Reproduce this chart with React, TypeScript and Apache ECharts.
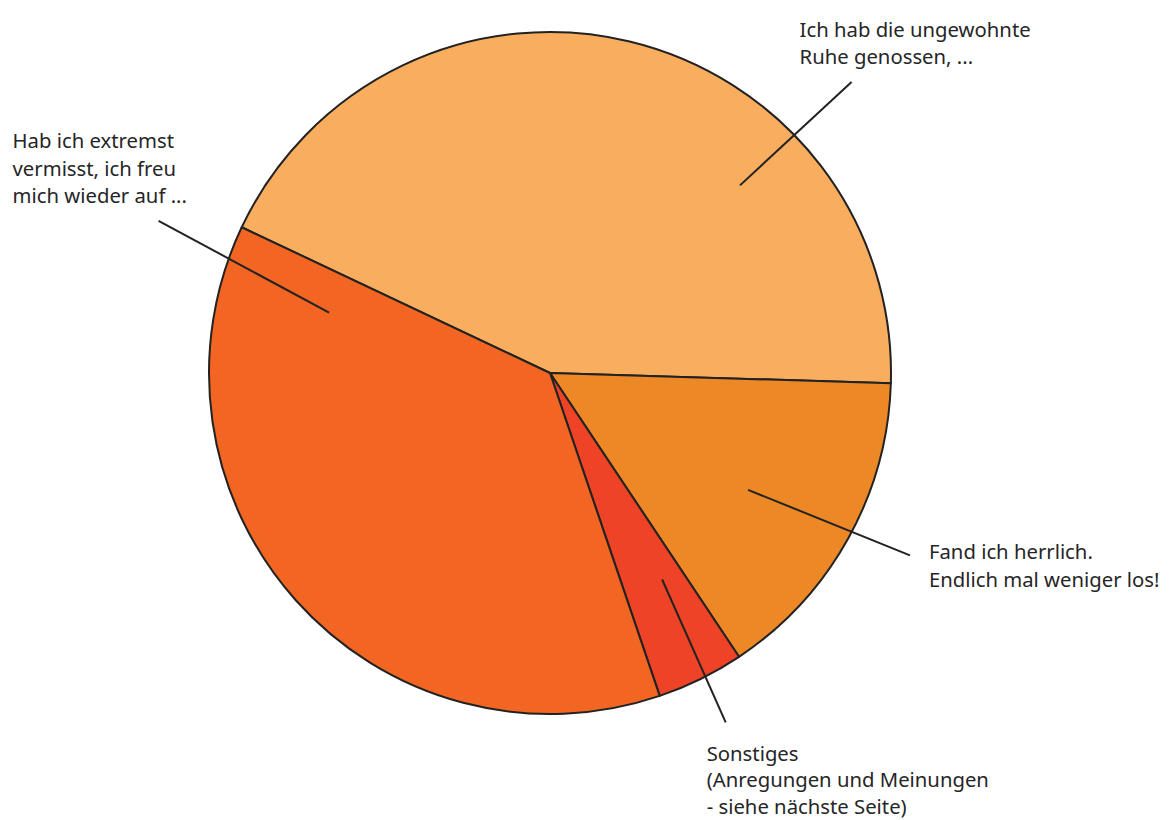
import React, { useEffect, useRef } from 'react';
import * as echarts from 'echarts';

// ---- data ----
const categories = [
  'Ich hab die ungewohnte\nRuhe genossen, ...',
  'Fand ich herrlich.\nEndlich mal weniger los!',
  'Sonstiges\n(Anregungen und Meinungen\n- siehe nächste Seite)',
  'Hab ich extremst\nvermisst, ich freu\nmich wieder auf ...',
];
const values = [63, 22, 6, 54];

// ---- styles ----
const colors = ['#F9AE5F', '#EC8826', '#EE4327', '#F26522'];
const labelLineHeights = [27.5, 27.5, 26.5, 27.5];

// ---- layout ----
const CENTER = [550, 373];
const RADIUS = 341;
const START_ANGLE = 154.7;
// leader-line anchors: [angle in degrees clockwise from 3 o'clock, distance from centre]
const guideFrom = [[-44.65, 267], [30.54, 230], [61.5, 235], [-164.74, 229]];
const guideTo = [[-43.97, 419], [26.86, 403.5], [63.3, 391], [-158.75, 420]];
// label offset from the leader-line end: [dx, dy, verticalAlign]
const labelOffset: [number, number, string][] = [
  [-52, -12, 'bottom'],
  [19, -18, 'top'],
  [-19, 17, 'top'],
  [-146, -12, 'bottom'],
];

function polar(a: number, r: number): [number, number] {
  const rad = (a * Math.PI) / 180;
  return [CENTER[0] + r * Math.cos(rad), CENTER[1] + r * Math.sin(rad)];
}

export default function App() {
  const ref = useRef<HTMLDivElement>(null);
  useEffect(() => {
    if (!ref.current) return;
    const chart = echarts.init(ref.current, null, { renderer: 'svg' });
    const common = {
      type: 'pie',
      center: CENTER,
      radius: [0, RADIUS],
      startAngle: START_ANGLE,
      clockwise: true,
      avoidLabelOverlap: false,
      silent: true,
      emphasis: { disabled: true },
    };
    chart.setOption({
      animation: false,
      backgroundColor: '#ffffff',
      series: [
        {
          ...common,
          z: 2,
          itemStyle: { borderColor: '#222222', borderWidth: 2 },
          label: { show: false },
          labelLine: { show: false },
          data: categories.map((name, i) => ({
            name,
            value: values[i],
            itemStyle: { color: colors[i] },
          })),
        },
        {
          ...common,
          z: 5,
          itemStyle: { color: 'rgba(0,0,0,0)', borderWidth: 0 },
          label: {
            show: true,
            position: 'outside',
            formatter: '{b}',
            color: '#262626',
            fontFamily: 'Noto Sans',
            fontSize: 20.3,
            lineHeight: 27.5,
          },
          labelLine: {
            show: true,
            length: 20,
            length2: 0,
            smooth: false,
            lineStyle: { color: '#222222', width: 2 },
          },
          labelLayout: (params: any) => {
            const i = params.dataIndex;
            const p0 = polar(guideFrom[i][0], guideFrom[i][1]);
            const p1 = polar(guideTo[i][0], guideTo[i][1]);
            const off = labelOffset[i];
            return {
              x: p1[0] + off[0],
              y: p1[1] + off[1],
              align: 'left',
              verticalAlign: off[2],
              labelLinePoints: [p0, p1],
            };
          },
          data: categories.map((name, i) => ({
            name,
            value: values[i],
            label: { lineHeight: labelLineHeights[i] },
          })),
        },
      ],
    });
    return () => chart.dispose();
  }, []);
  return (
    <div
      ref={ref}
      style={{ position: 'fixed', left: 0, top: 0, width: 1171, height: 820 }}
    />
  );
}
